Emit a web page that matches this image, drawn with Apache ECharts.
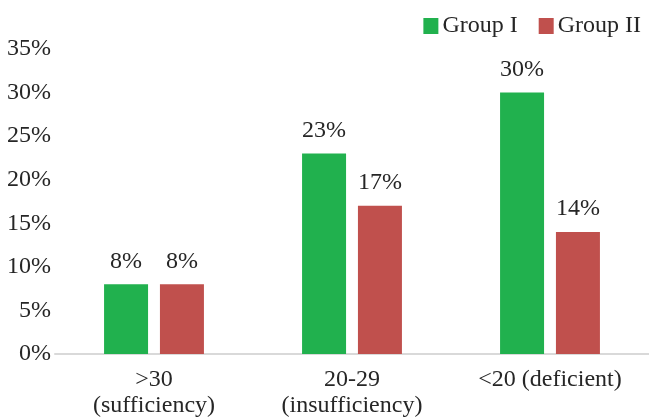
<!DOCTYPE html>
<html><head><meta charset="utf-8">
<script src="https://cdn.jsdelivr.net/npm/echarts@6/dist/echarts.min.js"></script>
<style>html,body{margin:0;padding:0;background:#fff}#c{width:649px;height:419px}</style>
</head><body><div id="c"></div>
<script>
var categories = ['>30\n(sufficiency)', '20-29\n(insufficiency)', '<20 (deficient)'];
var groupI = [8, 23, 30];
var groupII = [8, 17, 14];
var yTicks = [0, 5, 10, 15, 20, 25, 30, 35];

var font = 'Liberation Serif';
var txt = '#262626';
var fs = 24;
var chart = echarts.init(document.getElementById('c'));
var lbl = {show: true, position: 'top', distance: 11, formatter: '{c}%', fontFamily: font, fontSize: fs, color: txt};
chart.setOption({
  animation: false,
  textStyle: {fontFamily: font},
  legend: {
    top: 9, right: 3, itemWidth: 15, itemHeight: 16, itemGap: 21,
    icon: 'rect',
    textStyle: {fontFamily: font, fontSize: fs, color: txt, padding: [0, 0, 0, -1]},
    data: ['Group I', 'Group II']
  },
  grid: {left: 55, right: 0, top: 49, bottom: 61, containLabel: false},
  xAxis: {
    type: 'category', data: categories,
    axisLine: {lineStyle: {color: '#d9d9d9', width: 2}},
    axisTick: {show: false},
    axisLabel: {fontFamily: font, fontSize: fs, color: txt, lineHeight: 26, margin: 13, interval: 0}
  },
  yAxis: {
    type: 'value', min: yTicks[0], max: yTicks[yTicks.length - 1], interval: 5,
    splitLine: {show: false},
    axisLine: {show: false}, axisTick: {show: false},
    axisLabel: {fontFamily: font, fontSize: fs, color: txt, margin: 4, formatter: '{value}%'}
  },
  series: [
    {name: 'Group I', type: 'bar', data: groupI, itemStyle: {color: '#21b14e'}, barWidth: 44, barGap: '27%', label: lbl},
    {name: 'Group II', type: 'bar', data: groupII, itemStyle: {color: '#c0504d'}, barWidth: 44, label: lbl}
  ]
});
</script></body></html>
